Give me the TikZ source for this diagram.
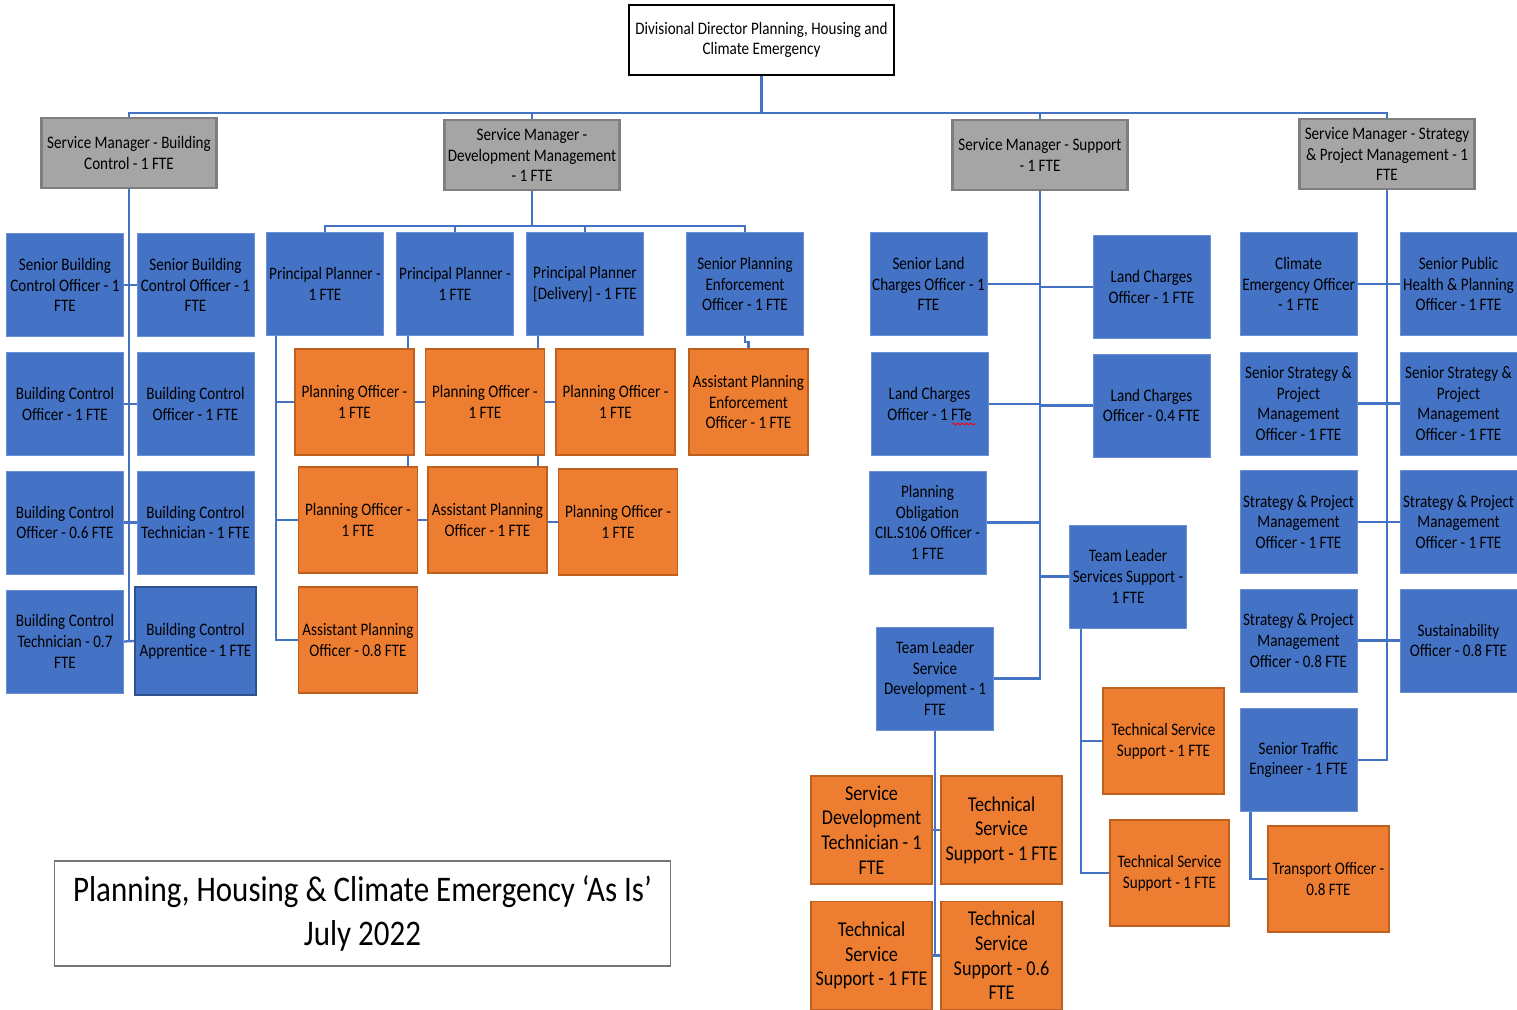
\documentclass[tikz,border=0pt]{standalone}
\usepackage{fontspec}
\setmainfont{Carlito}[FakeStretch=0.86]
\usetikzlibrary{calc,backgrounds,decorations.pathmorphing}
\definecolor{roleblue}{HTML}{4472C4}
\definecolor{roleedge}{HTML}{6A8FD6}
\definecolor{deepedge}{HTML}{2F528F}
\definecolor{staffor}{HTML}{ED7D31}
\definecolor{staffedge}{HTML}{C0601F}
\definecolor{mgrgray}{HTML}{A5A5A5}
\definecolor{mgredge}{HTML}{7F7F7F}
\definecolor{titleedge}{HTML}{767676}

\begin{document}
\begin{tikzpicture}[x=0.02cm,y=-0.02cm,
  txt/.style={align=center,inner sep=1pt,text=black,font=\fontsize{10}{11.8}\selectfont},
  head/.style={txt,fill=white,draw=black,line width=1.3pt,minimum width=5.3cm,minimum height=1.4cm},
  mgr/.style={txt,fill=mgrgray,draw=mgredge,line width=1.2pt,minimum width=3.5cm,minimum height=1.4cm},
  role/.style={txt,fill=roleblue,draw=roleedge,line width=0.5pt,minimum width=2.34cm,minimum height=2.06cm},
  staff/.style={txt,fill=staffor,draw=staffedge,line width=1.1pt,minimum width=2.38cm,minimum height=2.12cm},
  bigstaff/.style={staff,minimum width=2.42cm,minimum height=2.16cm,font=\fontsize{12}{14}\selectfont},
  link/.style={draw=roleblue,line width=1.3pt}]
\useasboundingbox (0,0) rectangle (1517,1010);

% director and service managers
\node[head] (dir) at (761.5,40) {Divisional Director Planning, Housing and\\Climate Emergency};
\node[mgr] (smbc) at (129,153) {Service Manager - Building\\Control - 1 FTE};
\node[mgr] (smdm) at (532,155) {Service Manager -\\Development Management\\- 1 FTE};
\node[mgr] (sms) at (1040,155) {Service Manager - Support\\- 1 FTE};
\node[mgr] (smsp) at (1387,154) {Service Manager - Strategy\\\& Project Management - 1\\FTE};

% building control
\node[role] (bca1) at (65,285) {Senior Building\\Control Officer - 1\\FTE};
\node[role] (bcb1) at (195.5,285) {Senior Building\\Control Officer - 1\\FTE};
\node[role] (bca2) at (65,404) {Building Control\\Officer - 1 FTE};
\node[role] (bcb2) at (195.5,404) {Building Control\\Officer - 1 FTE};
\node[role] (bca3) at (65,522.5) {Building Control\\Officer - 0.6 FTE};
\node[role] (bcb3) at (195.5,522.5) {Building Control\\Technician - 1 FTE};
\node[role] (bca4) at (65,641.5) {Building Control\\Technician - 0.7\\FTE};
\node[role,draw=deepedge,line width=1.2pt,minimum width=2.42cm,minimum height=2.16cm] (bcb4) at (195.5,641) {Building Control\\Apprentice - 1 FTE};

% development management
\node[role] (pp1) at (325,284) {Principal Planner -\\1 FTE};
\node[role] (pp2) at (455,284) {Principal Planner -\\1 FTE};
\node[role] (pp3) at (585,284) {Principal Planner\\{}[Delivery] - 1 FTE};
\node[role] (speo) at (745,284) {Senior Planning\\Enforcement\\Officer - 1 FTE};
\node[staff] (po11) at (354.5,402) {Planning Officer -\\1 FTE};
\node[staff] (po12) at (485,402) {Planning Officer -\\1 FTE};
\node[staff] (po13) at (615.5,402) {Planning Officer -\\1 FTE};
\node[staff] (apeo) at (748.5,402) {Assistant Planning\\Enforcement\\Officer - 1 FTE};
\node[staff] (po21) at (358,520) {Planning Officer -\\1 FTE};
\node[staff] (apo1) at (487.5,520) {Assistant Planning\\Officer - 1 FTE};
\node[staff] (po23) at (618,522) {Planning Officer -\\1 FTE};
\node[staff] (apo8) at (358,640) {Assistant Planning\\Officer - 0.8 FTE};

% support
\node[role] (slco) at (928.5,284) {Senior Land\\Charges Officer - 1\\FTE};
\node[role] (lco1) at (1151.5,287) {Land Charges\\Officer - 1 FTE};
\node[role] (lcoe) at (929.5,404) {Land Charges\\Officer - 1 FTe};
\node[role] (lco4) at (1151.5,405.5) {Land Charges\\Officer - 0.4 FTE};
\node[role] (pocil) at (927.5,522.5) {Planning\\Obligation\\CIL.S106 Officer -\\1 FTE};
\node[role] (tlss) at (1128,576.5) {Team Leader\\Services Support -\\1 FTE};
\node[role] (tlsd) at (935,678.5) {Team Leader\\Service\\Development - 1\\FTE};
\node[bigstaff] (sdt) at (871.5,830) {Service\\Development\\Technician - 1\\FTE};
\node[bigstaff] (tssr) at (1001.5,830) {Technical\\Service\\Support - 1 FTE};
\node[bigstaff] (tssl) at (871.5,955.5) {Technical\\Service\\Support - 1 FTE};
\node[bigstaff] (tss6) at (1001.5,955.5) {Technical\\Service\\Support - 0.6\\FTE};
\node[staff,minimum width=2.42cm] (tssa) at (1163.5,741) {Technical Service\\Support - 1 FTE};
\node[staff] (tssb) at (1169.5,873) {Technical Service\\Support - 1 FTE};
% spell-check squiggle under FTe
\draw[red,line width=0.5pt,decorate,decoration={snake,amplitude=0.5pt,segment length=2.5pt}] (952,424) -- (976,424);

% strategy and project management
\node[role] (ceo) at (1298.5,284) {Climate\\Emergency Officer\\- 1 FTE};
\node[role] (sphpo) at (1458.5,284) {Senior Public\\Health \& Planning\\Officer - 1 FTE};
\node[role] (sspa) at (1298.5,403.5) {Senior Strategy \&\\Project\\Management\\Officer - 1 FTE};
\node[role] (sspb) at (1458.5,403.5) {Senior Strategy \&\\Project\\Management\\Officer - 1 FTE};
\node[role] (spma) at (1298.5,522) {Strategy \& Project\\Management\\Officer - 1 FTE};
\node[role] (spmb) at (1458.5,522) {Strategy \& Project\\Management\\Officer - 1 FTE};
\node[role] (spm8) at (1298.5,640.5) {Strategy \& Project\\Management\\Officer - 0.8 FTE};
\node[role] (sust) at (1458.5,640.5) {Sustainability\\Officer - 0.8 FTE};
\node[role] (ste) at (1298.5,760) {Senior Traffic\\Engineer - 1 FTE};
\node[staff,minimum width=2.42cm] (trans) at (1328.5,879) {Transport Officer -\\0.8 FTE};

% caption
\node[fill=white,draw=titleedge,line width=0.6pt,minimum width=12.34cm,minimum height=2.1cm,
  align=center,font=\fontsize{20.5}{25}\selectfont] (title) at (362.5,913.5)
  {Planning, Housing \& Climate Emergency ‘As Is’\\July 2022};

\begin{pgfonlayer}{background}
\fill[white] (0,0) rectangle (1517,1010);
% top bus
\draw[link] (dir.south) -- ++(0,37) coordinate (busT);
\draw[link] (smbc.north) |- (busT) -| (smsp.north);
\draw[link] (smdm.north) |- (busT);
\draw[link] (sms.north) |- (busT);
% building control lines
\draw[link] (smbc.south) -- (smbc.south |- bca4.east);
\draw[link] (bca1.east) -- (bcb1.west);
\draw[link] (bca2.east) -- (bcb2.west);
\draw[link] (bca3.east) -- (bcb3.west);
\draw[link] (bca4.east) -- (bcb4.west);
% development management lines
\draw[link] (smdm.south) -- ++(0,35) coordinate (busD);
\draw[link] (pp1.north) |- (busD) -| (speo.north);
\draw[link] (pp2.north) |- (busD);
\draw[link] (pp3.north) |- (busD);
\coordinate (pp1l) at ($(pp1.south west)+(10,0)$);
\draw[link] (pp1l) |- (apo8.west);
\draw[link] (po11.west -| pp1l) -- (po11.west);
\draw[link] (po21.west -| pp1l) -- (po21.west);
\coordinate (pp2l) at ($(pp2.south west)+(12,0)$);
\draw[link] (pp2l) |- (apo1.west);
\draw[link] (po12.west -| pp2l) -- (po12.west);
\coordinate (pp3l) at ($(pp3.south west)+(12,0)$);
\draw[link] (pp3l) |- (po23.west);
\draw[link] (po13.west -| pp3l) -- (po13.west);
\draw[link] (speo.south) -- ++(0,6) -| (apeo.north);
% support lines
\draw[link] (sms.south) |- (tlsd.east);
\draw[link] (slco.east) -- (slco.east -| sms.south);
\draw[link] (lco1.west -| sms.south) -- (lco1.west);
\draw[link] (lcoe.east) -- (lcoe.east -| sms.south);
\draw[link] (lco4.west -| sms.south) -- (lco4.west);
\draw[link] (pocil.east) -- (pocil.east -| sms.south);
\draw[link] (tlss.west -| sms.south) -- (tlss.west);
\draw[link] (tlsd.south) -- (tlsd.south |- tssl.east);
\draw[link] (sdt.east) -- (tssr.west);
\draw[link] (tssl.east) -- (tss6.west);
\coordinate (tlssl) at ($(tlss.south west)+(12,0)$);
\draw[link] (tlssl) |- (tssb.west);
\draw[link] (tssa.west -| tlssl) -- (tssa.west);
% strategy lines
\draw[link] (smsp.south) |- (ste.east);
\draw[link] (ceo.east) -- (sphpo.west);
\draw[link] (sspa.east) -- (sspb.west);
\draw[link] (spma.east) -- (spmb.west);
\draw[link] (spm8.east) -- (sust.west);
\coordinate (stel) at ($(ste.south west)+(11,0)$);
\draw[link] (stel) |- (trans.west);
\end{pgfonlayer}
\end{tikzpicture}
\end{document}
